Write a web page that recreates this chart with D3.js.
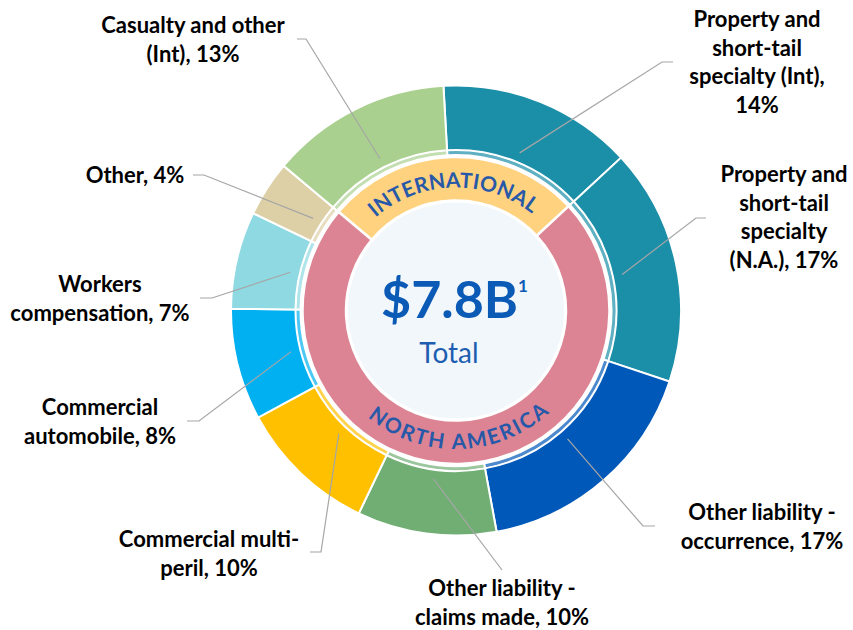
<!DOCTYPE html>
<html lang="en">
<head>
<meta charset="UTF-8">
<title>Premiums by line of business</title>
<script src="https://cdn.jsdelivr.net/npm/d3@7/dist/d3.min.js"></script>
<style>
    body { margin: 0; background: #fff; }
    svg { display: block; font-family: Lato, "Open Sans", sans-serif; }
    .lbl { font-size: 22px; font-weight: 700; fill: #000; text-anchor: middle; }
    .leader { fill: none; stroke: #a6a6a6; stroke-width: 1.2; }
    .ring-text { font-size: 21px; font-weight: 700; fill: #2859a8; }
</style>
</head>
<body>
<svg width="853" height="630"></svg>
<script>
    // outer ring, clockwise from the top
    var categories = [
        "Property and short-tail specialty (Int)",
        "Property and short-tail specialty (N.A.)",
        "Other liability - occurrence",
        "Other liability - claims made",
        "Commercial multi-peril",
        "Commercial automobile",
        "Workers compensation",
        "Other",
        "Casualty and other (Int)"
    ];
    var shares = [14, 17, 17, 10, 10, 8, 7, 4, 13];
    var labelLines = [
        ["Property and", "short-tail", "specialty (Int),", "14%"],
        ["Property and", "short-tail", "specialty", "(N.A.), 17%"],
        ["Other liability -", "occurrence, 17%"],
        ["Other liability -", "claims made, 10%"],
        ["Commercial multi-", "peril, 10%"],
        ["Commercial", "automobile, 8%"],
        ["Workers", "compensation, 7%"],
        ["Other, 4%"],
        ["Casualty and other", "(Int), 13%"]
    ];
    var colors = ["#1b8ea8", "#1b8ea8", "#0058b8", "#70ae74", "#ffc000",
                  "#00b0f0", "#8ed9e2", "#ddd0a6", "#a9d08e"];

    // inner ring
    var regions = ["INTERNATIONAL", "NORTH AMERICA"];
    var regionShares = [27, 73];
    var regionColors = ["#ffd280", "#dc8494"];

    var totalText = "$7.8B";
    var totalNote = "1";
    var totalCaption = "Total";

    // where each label sits: text centre x, first baseline, elbow x/y, end of horizontal stub
    var labelLayout = [
        {x: 757, y: 27,  ex: 662, ey: 62,  hx: 673},
        {x: 784, y: 182, ex: 696, ey: 218, hx: 706},
        {x: 762, y: 520, ex: 643, ey: 526, hx: 655},
        {x: 502, y: 596, ex: 502, ey: 570, hx: 502},
        {x: 209, y: 547, ex: 321, ey: 552, hx: 310},
        {x: 100, y: 415, ex: 199, ey: 421, hx: 187},
        {x: 100, y: 292, ex: 212, ey: 298, hx: 200},
        {x: 135, y: 183, ex: 204, ey: 175, hx: 193},
        {x: 193, y: 33,  ex: 306, ey: 39,  hx: 297}
    ];

    var svg = d3.select("svg"),
        cx = 456, cy = 310.5,
        lineH = 28.5;

    var g = svg.append("g")
        .attr("transform", "translate(" + cx + "," + cy + ")");

    var rad = Math.PI / 180;
    var start = -3.2 * rad;

    var data = categories.map(function(c, i) {
        return {name: c, value: shares[i], color: colors[i], lines: labelLines[i], pos: labelLayout[i]};
    });

    var pie = d3.pie().sort(null).value(function(d) { return d.value; })
        .startAngle(start).endAngle(start + 2 * Math.PI);
    var arcs = pie(data);

    var outerArc = d3.arc().innerRadius(160.5).outerRadius(225);
    var bandArc = d3.arc().innerRadius(155.5).outerRadius(161);
    var pointArc = d3.arc().innerRadius(170).outerRadius(170);

    g.selectAll(".band")
        .data(arcs)
        .enter().append("path")
        .attr("class", "band")
        .attr("d", bandArc)
        .attr("fill", function(d) { return d3.interpolateRgb(d.data.color, "#fff")(0.3); })
        .attr("stroke", "#fff")
        .attr("stroke-width", 2);

    g.selectAll(".slice")
        .data(arcs)
        .enter().append("path")
        .attr("class", "slice")
        .attr("d", outerArc)
        .attr("fill", function(d) { return d.data.color; })
        .attr("stroke", "#fff")
        .attr("stroke-width", 2);

    // inner ring
    var regionData = regions.map(function(r, i) {
        return {name: r, value: regionShares[i], color: regionColors[i]};
    });
    var regionStart = start - shares[shares.length - 1] / 100 * 2 * Math.PI;
    var regionPie = d3.pie().sort(null).value(function(d) { return d.value; })
        .startAngle(regionStart).endAngle(regionStart + 2 * Math.PI);
    var regionArcs = regionPie(regionData);
    var innerArc = d3.arc().innerRadius(110).outerRadius(153.5);

    g.selectAll(".region")
        .data(regionArcs)
        .enter().append("path")
        .attr("class", "region")
        .attr("d", innerArc)
        .attr("fill", function(d) { return d.data.color; })
        .attr("stroke", "#fff")
        .attr("stroke-width", 2.5);

    g.append("circle")
        .attr("r", 109)
        .attr("fill", "#f2f7fb")
        .attr("stroke", "#fff")
        .attr("stroke-width", 2);

    // curved region names, centred on each inner segment
    function arcPath(r, a0, a1, sweep) {
        return "M" + (r * Math.sin(a0)) + "," + (-r * Math.cos(a0)) +
            "A" + r + "," + r + " 0 0," + sweep + " " + (r * Math.sin(a1)) + "," + (-r * Math.cos(a1));
    }
    var defs = g.append("defs");
    regionArcs.forEach(function(d, i) {
        var mid = (d.startAngle + d.endAngle) / 2;
        var bottom = Math.cos(mid) < 0;
        var r = bottom ? 138.5 : 123;
        var half = 70 * rad;
        defs.append("path")
            .attr("id", "rp" + i)
            .attr("d", bottom ? arcPath(r, mid + half, mid - half, 0) : arcPath(r, mid - half, mid + half, 1));
        var span = bottom ? 82 : 79;
        g.append("text")
            .attr("class", "ring-text")
            .append("textPath")
            .attr("href", "#rp" + i)
            .attr("startOffset", "50%")
            .attr("text-anchor", "middle")
            .attr("textLength", span * rad * r)
            .attr("lengthAdjust", "spacing")
            .text(d.data.name);
    });

    // centre total
    var tot = g.append("text")
        .attr("x", -1.5)
        .attr("y", 7.5)
        .attr("text-anchor", "middle")
        .attr("font-size", 52)
        .attr("font-weight", 700)
        .attr("fill", "#0b5ab6")
        .text(totalText);
    tot.append("tspan")
        .attr("font-size", 17)
        .attr("dy", -26)
        .text(totalNote);

    g.append("text")
        .attr("x", -7)
        .attr("y", 52.5)
        .attr("text-anchor", "middle")
        .attr("font-size", 28)
        .attr("fill", "#1d5eb1")
        .text(totalCaption);

    // leader lines
    svg.selectAll(".leader")
        .data(arcs)
        .enter().append("polyline")
        .attr("class", "leader")
        .attr("points", function(d) {
            var c = pointArc.centroid(d);
            var p = d.data.pos;
            return [[c[0] + cx, c[1] + cy], [p.ex, p.ey], [p.hx, p.ey]].join(" ");
        });

    // labels
    var lbl = svg.selectAll(".lbl")
        .data(arcs)
        .enter().append("text")
        .attr("class", "lbl")
        .attr("x", function(d) { return d.data.pos.x; })
        .attr("y", function(d) { return d.data.pos.y; });

    lbl.selectAll("tspan")
        .data(function(d) { return d.data.lines.map(function(t) { return {t: t, x: d.data.pos.x}; }); })
        .enter().append("tspan")
        .attr("x", function(d) { return d.x; })
        .attr("dy", function(d, i) { return i ? lineH : 0; })
        .text(function(d) { return d.t; });
</script>
</body>
</html>
